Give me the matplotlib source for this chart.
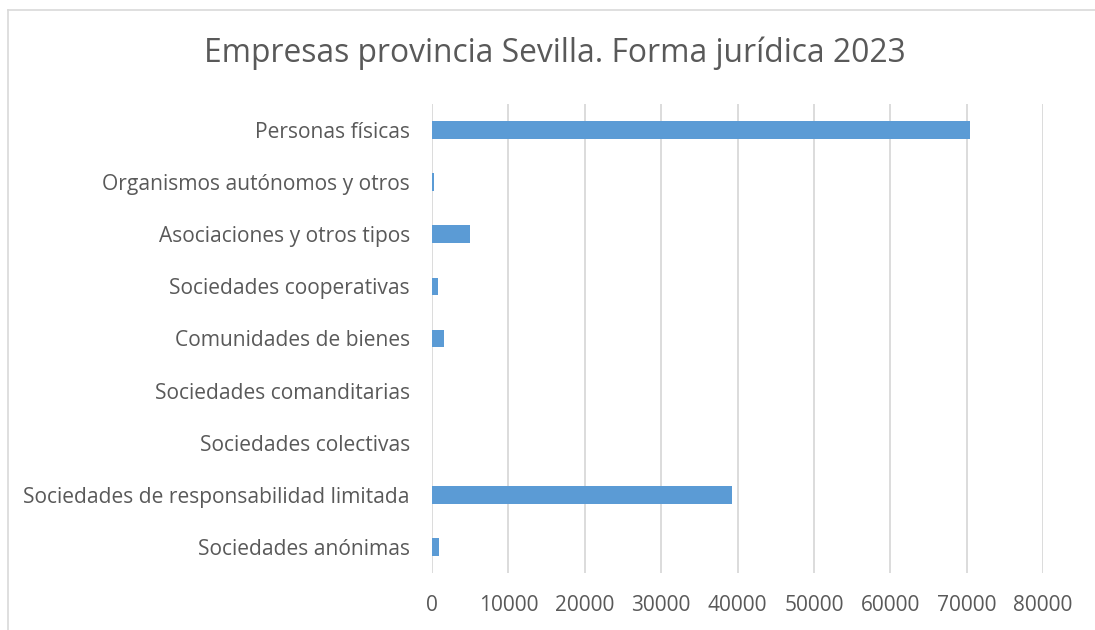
import matplotlib
matplotlib.use("Agg")
import matplotlib.pyplot as plt
from matplotlib.lines import Line2D

categories = [
    "Sociedades anónimas",
    "Sociedades de responsabilidad limitada",
    "Sociedades colectivas",
    "Sociedades comanditarias",
    "Comunidades de bienes",
    "Sociedades cooperativas",
    "Asociaciones y otros tipos",
    "Organismos autónomos y otros",
    "Personas físicas",
]
values = [920, 39340, 15, 5, 1520, 730, 4930, 260, 70430]
xticks = [0, 10000, 20000, 30000, 40000, 50000, 60000, 70000, 80000]
title = "Empresas provincia Sevilla. Forma jurídica 2023"

plt.rcParams['font.family'] = ['Open Sans', 'DejaVu Sans']
W, H = 1095, 630
fig = plt.figure(figsize=(W / 100, H / 100), dpi=100)
ax = fig.add_axes([432 / W, 1 - 573 / H, (1043 - 432) / W, (573 - 104) / H])

txt = "#595959"
ax.barh(range(len(categories)), values, height=0.34, color="#5b9bd5", zorder=3)
ax.set_ylim(-0.5, len(categories) - 0.5)
ax.set_xlim(0, 80000)
ax.set_xticks(xticks)
ax.set_xticklabels([str(t) for t in xticks])
ax.set_yticks(range(len(categories)))
ax.set_yticklabels(categories)
ax.tick_params(axis='x', length=0, pad=16, labelsize=15, labelcolor=txt)
ax.tick_params(axis='y', length=0, pad=16, labelsize=15.1, labelcolor=txt)
for s in ax.spines.values():
    s.set_visible(False)
ax.grid(axis='x', color="#d9d9d9", linewidth=1.3, zorder=0)
ax.set_axisbelow(True)

fig.text(555 / W, 1 - 53 / H, title, ha='center', va='center', fontsize=22.9, color=txt)

fig.add_artist(Line2D([7.5 / W, 1.0], [1 - 9.5 / H, 1 - 9.5 / H], color="#d9d9d9", linewidth=1.2))
fig.add_artist(Line2D([7.5 / W, 7.5 / W], [1 - 9.5 / H, 0], color="#d9d9d9", linewidth=1.2))

fig.savefig("out.png", dpi=100, facecolor="white")
